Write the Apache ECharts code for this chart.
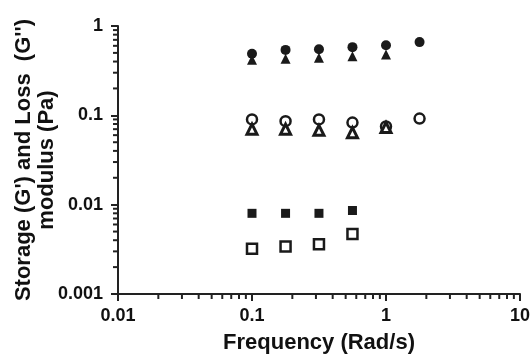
<!DOCTYPE html>
<html><head><meta charset="utf-8">
<script src="https://cdn.jsdelivr.net/npm/echarts@6/dist/echarts.min.js"></script>
<style>html,body{margin:0;padding:0;background:#fff}#c{width:532px;height:356px}</style>
</head><body><div id="c"></div>
<script>
const freq = [0.1, 0.178, 0.316, 0.562, 1, 1.78];
const gpA  = [0.49, 0.54, 0.55, 0.58, 0.61, 0.66];     // filled circles
const gppA = [0.42, 0.43, 0.44, 0.46, 0.48];           // filled triangles
const gpB  = [0.090, 0.086, 0.090, 0.083, 0.075, 0.092]; // open circles
const gppB = [0.070, 0.070, 0.068, 0.064, 0.073];      // open triangles
const gpC  = [0.0080, 0.0080, 0.0080, 0.0086];         // filled squares
const gppC = [0.0032, 0.0034, 0.0036, 0.0047];         // open squares
const xTicks = [0.01, 0.1, 1, 10];
const yTicks = [0.001, 0.01, 0.1, 1];

function pairs(ys){ return ys.map((y,i)=>[freq[i], y]); }
function minors(ticks){
  const out=[];
  for(let i=0;i<ticks.length-1;i++) for(let k=2;k<=9;k++) out.push(+(ticks[i]*k).toPrecision(3));
  return out;
}
const FONT = 'Liberation Sans, Arial, sans-serif';
const xMin = xTicks[0], yMin = yTicks[0];

const chart = echarts.init(document.getElementById('c'));
const axisCommon = {
  type:'log', logBase:10,
  axisLine:{show:true, lineStyle:{color:'#222', width:2}},
  axisTick:{show:true, inside:false, length:7, lineStyle:{color:'#222', width:2}},
  axisLabel:{color:'#111', fontFamily:FONT, fontWeight:'bold', fontSize:18, formatter:v=>String(+v.toPrecision(3))},
  splitLine:{show:false}, minorTick:{show:false},
  nameTextStyle:{color:'#111', fontFamily:FONT, fontWeight:'bold', fontSize:22}
};
function sc(name, data, symbol, filled, size, bw){
  return {type:'scatter', name, data, symbol, symbolSize:size,
    itemStyle: filled ? {color:'#1a1a1a', opacity:1} : {color:'#fff', borderColor:'#1a1a1a', borderWidth:bw||2.5, opacity:1},
    z:3};
}
chart.setOption({
  animation:false,
  grid:{left:118, right:12, top:26, bottom:62, containLabel:false, outerBoundsMode:'none'},
  xAxis:Object.assign({}, axisCommon, {min:xTicks[0], max:xTicks[xTicks.length-1],
    name:'Frequency (Rad/s)', nameLocation:'middle', nameGap:38,
    axisLabel:Object.assign({}, axisCommon.axisLabel, {margin:13})}),
  yAxis:Object.assign({}, axisCommon, {min:yTicks[0], max:yTicks[yTicks.length-1],
    name:"Storage (G') and Loss  (G'')\nmodulus (Pa)", nameLocation:'middle', nameGap:60, nameRotate:90,
    nameMoveOverlap:false,
    nameTextStyle:Object.assign({}, axisCommon.nameTextStyle, {lineHeight:23}),
    axisLabel:Object.assign({}, axisCommon.axisLabel, {margin:15})}),
  series:[
    {type:'custom', silent:true, clip:false, z:2,
     data: minors(xTicks).map(v=>[v, yMin]),
     renderItem:(p, api)=>{ const pt=api.coord([api.value(0), api.value(1)]);
       return {type:'line', shape:{x1:pt[0], y1:pt[1], x2:pt[0], y2:pt[1]+5}, style:{stroke:'#222', lineWidth:2}}; }},
    {type:'custom', silent:true, clip:false, z:2,
     data: minors(yTicks).map(v=>[xMin, v]),
     renderItem:(p, api)=>{ const pt=api.coord([api.value(0), api.value(1)]);
       return {type:'line', shape:{x1:pt[0], y1:pt[1], x2:pt[0]-5, y2:pt[1]}, style:{stroke:'#222', lineWidth:2}}; }},
    sc("G' A", pairs(gpA), 'circle', true, 10),
    sc("G'' A", pairs(gppA), 'triangle', true, 10),
    sc("G' B", pairs(gpB), 'circle', false, 10),
    sc("G'' B", pairs(gppB), 'triangle', false, 10, 3),
    sc("G' C", pairs(gpC), 'rect', true, 9),
    sc("G'' C", pairs(gppC), 'rect', false, 10)
  ]
});
</script></body></html>
